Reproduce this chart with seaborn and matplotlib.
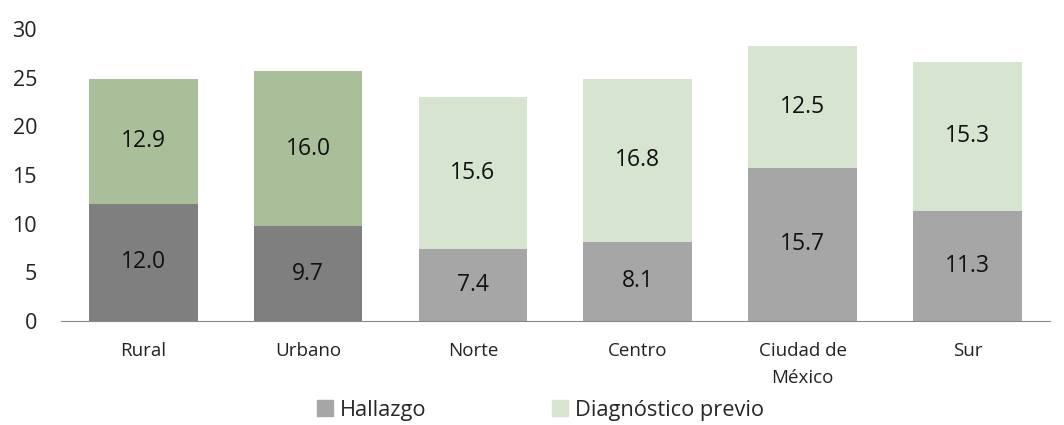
import matplotlib
matplotlib.use("Agg")
import matplotlib.pyplot as plt
import matplotlib.patches as mpatches
import numpy as np
import pandas as pd
import seaborn as sns

regions = ["Rural", "Urbano", "Norte", "Centro", "Ciudad de\nMéxico", "Sur"]
hallazgo = [12.0, 9.7, 7.4, 8.1, 15.7, 11.3]
diagnostico = [12.9, 16.0, 15.6, 16.8, 12.5, 15.3]

bottom_colors = ["#7f7f7f", "#7f7f7f", "#a6a6a6", "#a6a6a6", "#a6a6a6", "#a6a6a6"]
top_colors = ["#a9bf9a", "#a9bf9a", "#d7e4d0", "#d7e4d0", "#d7e4d0", "#d7e4d0"]

df = pd.DataFrame({"region": regions, "hallazgo": hallazgo, "diagnostico": diagnostico})
df["total"] = df["hallazgo"] + df["diagnostico"]

sns.set_style("white")
plt.rcParams["font.family"] = ["Open Sans", "DejaVu Sans"]

fig, ax = plt.subplots(figsize=(10.64, 4.25), dpi=100)
fig.subplots_adjust(left=0.057, right=0.987, bottom=0.245, top=0.932)

# stacked bars: draw the total in the top colour, then the bottom part over it
sns.barplot(data=df, x="region", y="total", hue="region", palette=top_colors,
            width=0.66, legend=False, ax=ax, saturation=1, linewidth=0)
sns.barplot(data=df, x="region", y="hallazgo", hue="region", palette=bottom_colors,
            width=0.66, legend=False, ax=ax, saturation=1, linewidth=0)

for i, (h, d) in enumerate(zip(hallazgo, diagnostico)):
    ax.text(i, h / 2, f"{h:.1f}", ha="center", va="center", fontsize=16.5, color="#111111")
    ax.text(i, h + d / 2, f"{d:.1f}", ha="center", va="center", fontsize=16.5, color="#111111")

ax.set_ylim(0, 30)
ax.set_xlim(-0.5, len(regions) - 0.5)
ax.set_yticks(range(0, 31, 5))
ax.set_xlabel("")
ax.set_ylabel("")
ax.tick_params(axis="y", length=0, labelsize=15.5, pad=17, colors="#222222")
ax.tick_params(axis="x", which="major", length=0, labelsize=13.5, pad=15, colors="#222222")
for lbl in ax.get_xticklabels():
    lbl.set_linespacing(1.65)
ax.set_xticks(np.arange(-0.5, len(regions), 1), minor=True)
ax.tick_params(axis="x", which="minor", length=7, color="#888888", width=1)
for s in ["top", "right", "left"]:
    ax.spines[s].set_visible(False)
ax.spines["bottom"].set_color("#888888")

handles = [mpatches.Patch(color="#a6a6a6", label="Hallazgo"),
           mpatches.Patch(color="#d7e4d0", label="Diagnóstico previo")]
fig.legend(handles=handles, loc="center", bbox_to_anchor=(0.508, 0.035), ncol=2,
           frameon=False, fontsize=15.7, handlelength=0.72, handleheight=0.72,
           handletextpad=0.3, columnspacing=5.8)

fig.savefig("out.png", dpi=100)
